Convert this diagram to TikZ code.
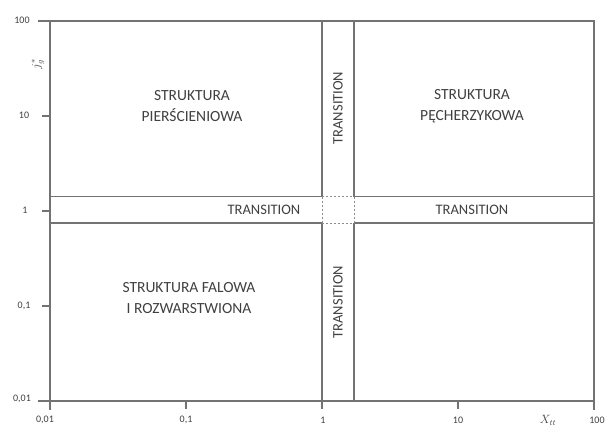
\documentclass[tikz,border=0pt]{standalone}
\usepackage{fontspec}
\setmainfont{Carlito}
\begin{document}
\begin{tikzpicture}[x=1pt,y=-1pt,
  axis/.style={draw=black!55,line width=1.3pt},
  band/.style={draw=black!55,line width=1.1pt},
  bandd/.style={draw=black!45,line width=1pt,dash pattern=on 2pt off 2pt},
  region/.style={text=black!75,font=\fontsize{15.5}{21}\selectfont,align=center},
  trans/.style={text=black!75,font=\fontsize{14.5}{15}\selectfont},
  tick/.style={text=black!75,font=\fontsize{10}{11}\selectfont}]
\useasboundingbox (0,0) rectangle (607,432);
% frame
\coordinate (tl) at (50,21);
\coordinate (tr) at (594,21);
\coordinate (bl) at (50,401);
\coordinate (br) at (594,401);
\draw[axis] (38,21) -- (tr) -- (594,410);
\draw[axis] (38,401) -- (br);
\draw[axis] (tl) -- (50,410);
% ticks
\foreach \yy in {116,211,306} \draw[axis] (42,\yy) -- (50,\yy);
\foreach \xx in {186,322,458} \draw[axis] (\xx,401) -- (\xx,409);
% bands
\draw[band] (322,21) -- (322,196.5) (322,223) -- (322,401);
\draw[band] (354,21) -- (354,196.5) (354,223) -- (354,401);
\draw[band] (50,196.5) -- (322,196.5) (354,196.5) -- (594,196.5);
\draw[band] (50,223) -- (322,223) (354,223) -- (594,223);
\draw[bandd] (322,196.5) -- (322,223) (354,196.5) -- (354,223);
\draw[bandd] (322,196.5) -- (354,196.5) (322,223) -- (354,223);
% tick labels
\node[tick] (y100) at (22,20) {100};
\node[tick] (y10) at (24,115) {10};
\node[tick] (y1) at (25,210) {1};
\node[tick] (y01) at (24,306) {0,1};
\node[tick] (y001) at (22,399) {0,01};
\node[tick] (x001) at (45,420) {0,01};
\node[tick] (x01) at (186,420) {0,1};
\node[tick] (x1) at (323,420) {1};
\node[tick] (x10) at (458,420) {10};
\node[tick] (x100) at (597,420) {100};
\node[text=black!75,rotate=90,font=\fontsize{12}{13}\selectfont] (ylab) at (38,64) {$j_g^*$};
\node[text=black!75,font=\fontsize{12}{13}\selectfont] (xlab) at (548,420) {$X_{tt}$};
% regions
\node[region] (ring) at (192,106) {STRUKTURA\\PIERŚCIENIOWA};
\node[region] (bubble) at (472,106) {STRUKTURA\\PĘCHERZYKOWA};
\node[region] (wave) at (189,298) {STRUKTURA FALOWA\\I ROZWARSTWIONA};
% transitions
\node[trans] (t1) at (264,210) {TRANSITION};
\node[trans] (t2) at (472,210) {TRANSITION};
\node[trans,rotate=90] (t3) at (338,108) {TRANSITION};
\node[trans,rotate=90] (t4) at (338,302) {TRANSITION};
\end{tikzpicture}
\end{document}
